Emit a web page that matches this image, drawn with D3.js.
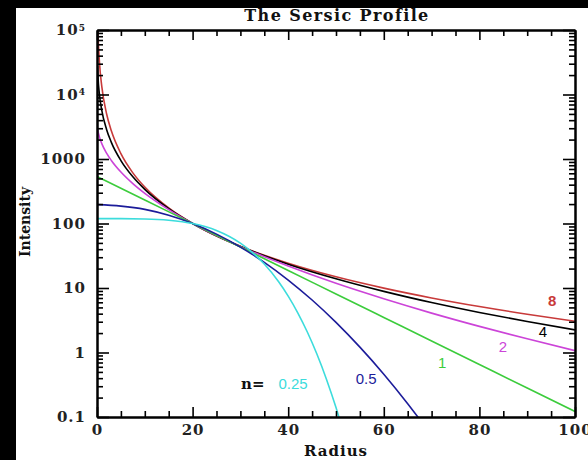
<!DOCTYPE html>
<html><head><meta charset="utf-8">
<script src="https://cdn.jsdelivr.net/npm/d3@7"></script>
<style>
html,body{margin:0;padding:0;background:#fff;}
svg{display:block;}
</style></head>
<body>
<svg id="chart" width="588" height="460"></svg>
<script>
// ---- data ----
const radius = [0.1, 0.2, 0.5, 1, 2, 3, 5, 7.5, 10, 15, 20, 25, 30, 40, 50, 60, 70, 80, 90, 100];
const n8 = [198000, 95200, 32660, 13350, 5030, 2733, 1210, 610, 367, 174, 100, 64, 44.3, 24.2, 14.9, 9.96, 7.02, 5.16, 3.92, 3.05];
const n4 = [27860, 18940, 10150, 5690, 2870, 1812, 945, 530, 339, 170, 100, 64.4, 44.1, 23.4, 13.9, 8.86, 5.95, 4.17, 3.02, 2.24];
const n2 = [3030, 2725, 2200, 1730, 1232, 949, 627, 415, 293, 164, 100, 64.9, 43.8, 21.9, 11.8, 6.80, 4.08, 2.54, 1.63, 1.07];
const radiusN1 = [0.1, 10, 20, 30, 40, 50, 60, 70, 80, 90, 100];
const n1 = [531, 231, 100, 43.2, 18.7, 8.07, 3.49, 1.51, 0.651, 0.281, 0.122];
const radiusN05 = [0.1, 5, 10, 15, 20, 25, 30, 35, 40, 45, 50, 55, 60, 65, 70];
const n05 = [195.9, 186, 165.6, 134.2, 100, 68.5, 43.1, 25.0, 13.3, 6.51, 2.93, 1.21, 0.461, 0.161, 0.0518];
const radiusN025 = [0.1, 5, 10, 15, 20, 25, 30, 33, 35, 38, 40, 42, 44, 46, 48, 50, 52];
const n025 = [118.9, 118.8, 117.6, 112.5, 100, 78.0, 49.6, 33.0, 23.5, 12.5, 7.5, 4.13, 2.08, 0.947, 0.386, 0.140, 0.0444];

const seriesNames = ["8", "4", "2", "1", "0.5", "0.25"];
const seriesColors = ["#c83a3a", "#000000", "#cc44d8", "#3ccc3c", "#1c1c9a", "#3cdcdc"];

const xMajor = [0, 20, 40, 60, 80, 100];
const yMajor = [0.1, 1, 10, 100, 1000, 1e4, 1e5];
const yLabels = ["0.1", "1", "10", "100", "1000", "10^4", "10^5"];

// label anchors in data units [radius, intensity]
const seriesLabelAt = [[95.2, 6.3], [93.3, 2.08], [84.9, 1.22], [72.2, 0.71], [56.3, 0.40], [41.0, 0.325]];

// ---- drawing ----
const svg = d3.select("#chart");
svg.append("rect").attr("width", 588).attr("height", 460).attr("fill", "#fff");
svg.append("rect").attr("x", 0).attr("y", 0).attr("width", 588).attr("height", 8).attr("fill", "#000");
svg.append("rect").attr("x", 0).attr("y", 0).attr("width", 16).attr("height", 460).attr("fill", "#000");

const pL = 97, pR = 575, pT = 30, pB = 417;
const x = d3.scaleLinear().domain([0, 100]).range([pL, pR]);
const y = d3.scaleLog().domain([0.1, 1e5]).range([pB, pT]);

svg.append("clipPath").attr("id", "plotclip")
  .append("rect").attr("x", pL).attr("y", pT).attr("width", pR - pL).attr("height", pB - pT);

const allSeries = [
  {r: radius, v: n8}, {r: radius, v: n4}, {r: radius, v: n2},
  {r: radiusN1, v: n1}, {r: radiusN05, v: n05}, {r: radiusN025, v: n025}
];
const line = d3.line().x(d => x(d[0])).y(d => y(d[1])).curve(d3.curveMonotoneX);
const gPlot = svg.append("g").attr("clip-path", "url(#plotclip)");
allSeries.forEach((s, i) => {
  const pts = s.r.map((r, k) => [r, s.v[k]]);
  gPlot.append("path").attr("d", line(pts)).attr("fill", "none")
    .attr("stroke", seriesColors[i]).attr("stroke-width", 1.6);
});

// minor ticks
const xMinor = d3.range(0, 101, 5).filter(v => v % 20 !== 0);
const yMinor = [];
for (let e = -1; e < 5; e++) for (let m = 2; m <= 9; m++) yMinor.push(m * Math.pow(10, e));

const fontSerif = "'DejaVu Serif', serif";
function styleAxis(sel) {
  sel.selectAll(".domain").attr("stroke", "#000").attr("stroke-width", 2);
  sel.selectAll(".tick line").attr("stroke", "#000").attr("stroke-width", 1.6);
}
// bottom
const axB = svg.append("g").attr("transform", `translate(0,${pB})`)
  .call(d3.axisBottom(x).tickValues(xMajor).tickSizeInner(-10).tickSizeOuter(0).tickPadding(7).tickFormat(d3.format("d")));
axB.selectAll("text").attr("font-family", fontSerif).attr("font-size", 15).attr("letter-spacing", 1)
  .attr("font-weight", "bold").attr("fill", "#222");
styleAxis(axB);
const axBm = svg.append("g").attr("transform", `translate(0,${pB})`)
  .call(d3.axisBottom(x).tickValues(xMinor).tickSizeInner(-6).tickSizeOuter(0).tickFormat(""));
styleAxis(axBm);
// top
const axT = svg.append("g").attr("transform", `translate(0,${pT})`)
  .call(d3.axisTop(x).tickValues(xMajor).tickSizeInner(-10).tickSizeOuter(0).tickFormat(""));
styleAxis(axT);
const axTm = svg.append("g").attr("transform", `translate(0,${pT})`)
  .call(d3.axisTop(x).tickValues(xMinor).tickSizeInner(-6).tickSizeOuter(0).tickFormat(""));
styleAxis(axTm);
// left
const axL = svg.append("g").attr("transform", `translate(${pL},0)`)
  .call(d3.axisLeft(y).tickValues(yMajor).tickSizeInner(-12).tickSizeOuter(0).tickPadding(11)
    .tickFormat((d, i) => yLabels[i]));
styleAxis(axL);
axL.selectAll(".tick text").each(function(d, i) {
  const t = d3.select(this);
  const lab = yLabels[i];
  t.text(null).attr("font-family", fontSerif).attr("font-size", 15).attr("letter-spacing", 1)
    .attr("font-weight", "bold").attr("fill", "#222");
  if (lab.includes("^")) {
    const [base, ex] = lab.split("^");
    t.append("tspan").text(base);
    t.append("tspan").text(ex).attr("font-size", 9).attr("dy", "-0.5em");
  } else {
    t.text(lab);
  }
});
const axLm = svg.append("g").attr("transform", `translate(${pL},0)`)
  .call(d3.axisLeft(y).tickValues(yMinor).tickSizeInner(-6).tickSizeOuter(0).tickFormat(""));
styleAxis(axLm);
// right
const axR = svg.append("g").attr("transform", `translate(${pR},0)`)
  .call(d3.axisRight(y).tickValues(yMajor).tickSizeInner(-12).tickSizeOuter(0).tickFormat(""));
styleAxis(axR);
const axRm = svg.append("g").attr("transform", `translate(${pR},0)`)
  .call(d3.axisRight(y).tickValues(yMinor).tickSizeInner(-6).tickSizeOuter(0).tickFormat(""));
styleAxis(axRm);

// title and axis titles
svg.append("text").attr("x", 337).attr("y", 21).attr("text-anchor", "middle")
  .attr("font-family", fontSerif).attr("font-size", 16).attr("letter-spacing", 1.4)
  .attr("font-weight", "bold").attr("fill", "#111")
  .text("The Sersic Profile");
svg.append("text").attr("x", 336).attr("y", 456).attr("text-anchor", "middle")
  .attr("font-family", fontSerif).attr("font-size", 15).attr("letter-spacing", 1)
  .attr("font-weight", "bold").attr("fill", "#111")
  .text("Radius");
svg.append("text").attr("transform", "translate(30,222) rotate(-90)").attr("text-anchor", "middle")
  .attr("font-family", fontSerif).attr("font-size", 14).attr("font-weight", "bold").attr("fill", "#111")
  .text("Intensity");

// series labels
seriesNames.forEach((nm, i) => {
  const [lr, li] = seriesLabelAt[i];
  svg.append("text").attr("x", x(lr)).attr("y", y(li)).attr("text-anchor", "middle")
    .attr("dominant-baseline", "central")
    .attr("font-family", "'Liberation Sans', sans-serif").attr("font-size", 15)
    .attr("font-weight", i === 0 ? "bold" : "normal")
    .attr("fill", seriesColors[i]).text(nm);
});
svg.append("text").attr("x", x(32.6)).attr("y", y(0.325)).attr("text-anchor", "middle")
  .attr("dominant-baseline", "central")
  .attr("font-family", fontSerif).attr("font-size", 15).attr("font-weight", "bold").attr("fill", "#111")
  .text("n=");
</script>
</body></html>
